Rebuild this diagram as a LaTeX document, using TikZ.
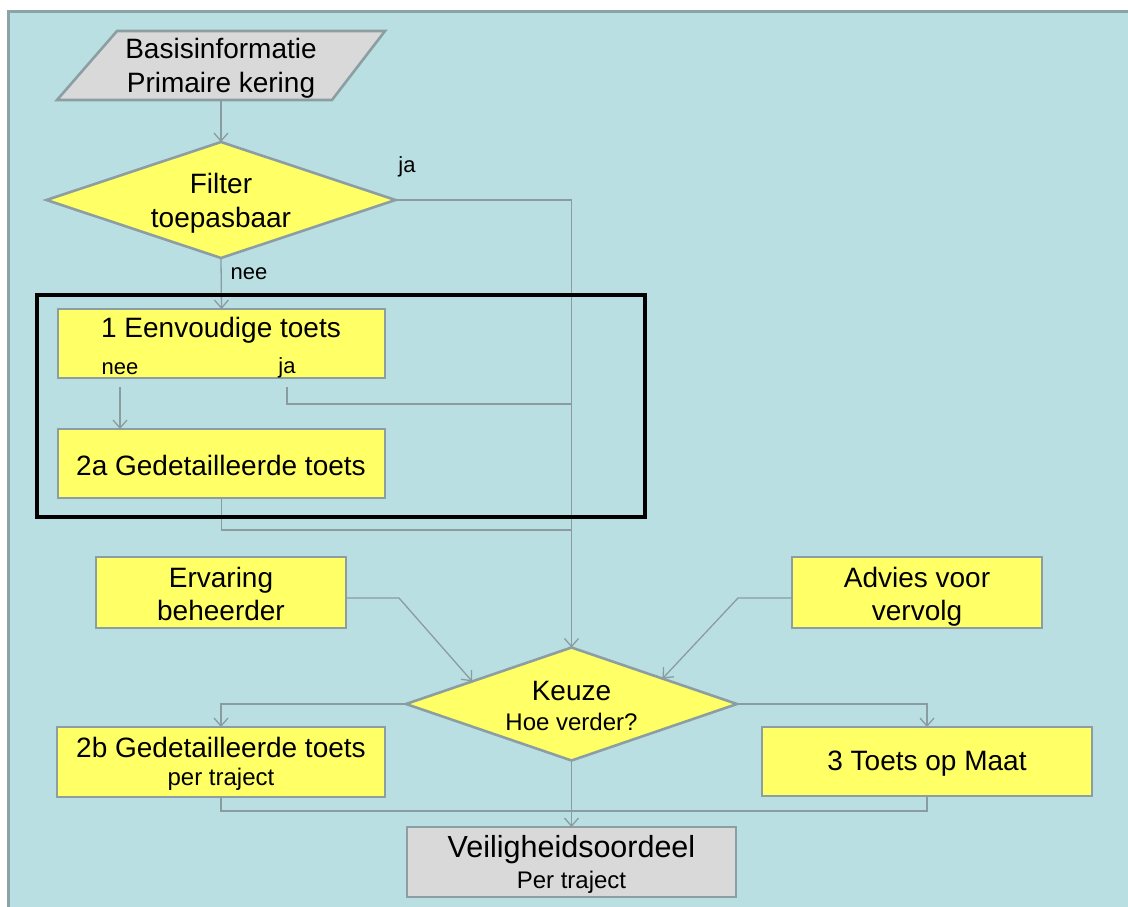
\documentclass[tikz,border=0pt]{standalone}
\usepackage{fontspec}
\setmainfont{Liberation Sans}
\usetikzlibrary{shapes.geometric,arrows.meta,calc}
\definecolor{bgblue}{HTML}{BADFE2}
\definecolor{framegrey}{HTML}{8AA3A7}
\definecolor{boxyellow}{HTML}{FFFF66}
\definecolor{boxgrey}{HTML}{D9D9D9}
\definecolor{edgegrey}{HTML}{8C9EA2}
\definecolor{linegrey}{HTML}{8A9CA0}
\newcommand\fsz[1]{\fontsize{#1}{#1}\selectfont}
\tikzset{
  yellowbox/.style={rectangle, draw=edgegrey, line width=2.6pt, fill=boxyellow, inner sep=0pt, outer sep=0pt},
  greybox/.style={rectangle, draw=edgegrey, line width=2.6pt, fill=boxgrey, inner sep=0pt, outer sep=0pt},
  greyshape/.style={draw=edgegrey, line width=2.6pt, fill=boxgrey, line join=miter},
  decision/.style={diamond, aspect=3, draw=edgegrey, line width=2.6pt, fill=boxyellow, inner sep=0pt, outer sep=0pt},
  txt/.style={anchor=base, inner sep=0pt, outer sep=0pt, text=black},
  big/.style={txt, font=\fsz{28}},
  small/.style={txt, font=\fsz{24}},
  lbl/.style={txt, font=\fsz{22}},
  conn/.style={draw=linegrey, line width=1.3pt},
  arr/.style={conn, -{Straight Barb[length=8pt,width=14pt]}},
  groupframe/.style={rectangle, draw=black, line width=4pt, inner sep=0pt, outer sep=0pt, fill=none}
}
\begin{document}
\begin{tikzpicture}[x=1pt,y=-1pt]
\useasboundingbox (0,0) rectangle (1128,906);
\clip (0,0) rectangle (1128,906);
\fill[white] (0,0) rectangle (1128,906);
\draw[fill=bgblue, draw=framegrey, line width=3pt] (8.5,11.5) rectangle (1140,920);

% input parallelogram
\coordinate (pTL) at (117,31);
\coordinate (pTR) at (385,31);
\coordinate (pBR) at (332,100);
\coordinate (pBL) at (57,100);
\draw[greyshape] (pTL) -- (pTR) -- (pBR) -- (pBL) -- cycle;
\node[big] (tb1) at (221,58) {Basisinformatie};
\node[big] (tb2) at (221,92) {Primaire kering};

% filter decision
\node[decision, minimum width=349pt, minimum height=116pt] (filter) at (221,200) {};
\node[big] (tf1) at (221,193) {Filter};
\node[big] (tf2) at (221,227) {toepasbaar};
\node[lbl] (lja1) at (407,172) {ja};
\node[lbl] (lnee1) at (249,279) {nee};

% box 1 and 2a
\node[yellowbox, minimum width=327pt, minimum height=69pt] (b1) at (221.5,343.5) {};
\node[big] (tb1a) at (221,337) {1 Eenvoudige toets};
\node[lbl] (lnee2) at (120,374) {nee};
\node[lbl] (lja2) at (287,373) {ja};
\node[yellowbox, minimum width=327pt, minimum height=69pt] (b2a) at (221.5,463.5) {};
\node[big] (tb2a) at (221,475) {2a Gedetailleerde toets};

% side inputs
\node[yellowbox, minimum width=250pt, minimum height=71pt] (erv) at (221,592.5) {};
\node[big] (te1) at (221,587) {Ervaring};
\node[big] (te2) at (221,620) {beheerder};
\node[yellowbox, minimum width=250pt, minimum height=71pt] (adv) at (917,592.5) {};
\node[big] (ta1) at (917,587) {Advies voor};
\node[big] (ta2) at (917,620) {vervolg};

% keuze decision
\node[decision, minimum width=331pt, minimum height=113pt] (keuze) at (571.5,704) {};
\node[big] (tk1) at (571.5,700) {Keuze};
\node[small] (tk2) at (571.5,730) {Hoe verder?};

% outcomes
\node[yellowbox, minimum width=328pt, minimum height=70pt] (b2b) at (221,762) {};
\node[big] (tb2b1) at (221,757) {2b Gedetailleerde toets};
\node[small] (tb2b2) at (221,785) {per traject};
\node[yellowbox, minimum width=330pt, minimum height=69pt] (b3) at (927,761.5) {};
\node[big] (tb3) at (927,770) {3 Toets op Maat};
\node[greybox, minimum width=329pt, minimum height=70pt] (veil) at (571.5,862) {};
\node[txt, font=\fsz{30.5}] (tv1) at (571.5,857) {Veiligheidsoordeel};
\node[small] (tv2) at (571.5,888) {Per traject};

% helper coordinates
\coordinate (basisB) at (221,100);
\coordinate (b1nee) at (120,387);
\coordinate (b1ja) at (287,387);
\coordinate (jaend) at (571.5,404);
\coordinate (j2a) at (571.5,530);
\coordinate (jbot) at (571.5,811);
\coordinate (ervbend) at (399,598);
\coordinate (advbend) at (738,598);

% connectors
\draw[arr] (basisB) -- (filter.north);
\draw[arr] (filter.east) -| (keuze.north);
\draw[arr] (filter.south) -- (b1.north);
\draw[arr] (b1nee) -- (b1nee |- b2a.north);
\draw[conn] (b1ja) |- (jaend);
\draw[conn] (b2a.south) |- (j2a);
\draw[arr] (erv.east |- ervbend) -- (ervbend) -- ($(keuze.west)!0.4!(keuze.north)$);
\draw[arr] (adv.west |- advbend) -- (advbend) -- ($(keuze.east)!0.45!(keuze.north)$);
\draw[arr] (keuze.west) -| (b2b.north);
\draw[arr] (keuze.east) -| (b3.north);
\draw[arr] (keuze.south) -- (veil.north);
\draw[conn] (b2b.south) |- (jbot);
\draw[conn] (b3.south) |- (jbot);

% group frame
\node[groupframe, minimum width=608pt, minimum height=222pt] (group) at (341,406) {};
\end{tikzpicture}
\end{document}
